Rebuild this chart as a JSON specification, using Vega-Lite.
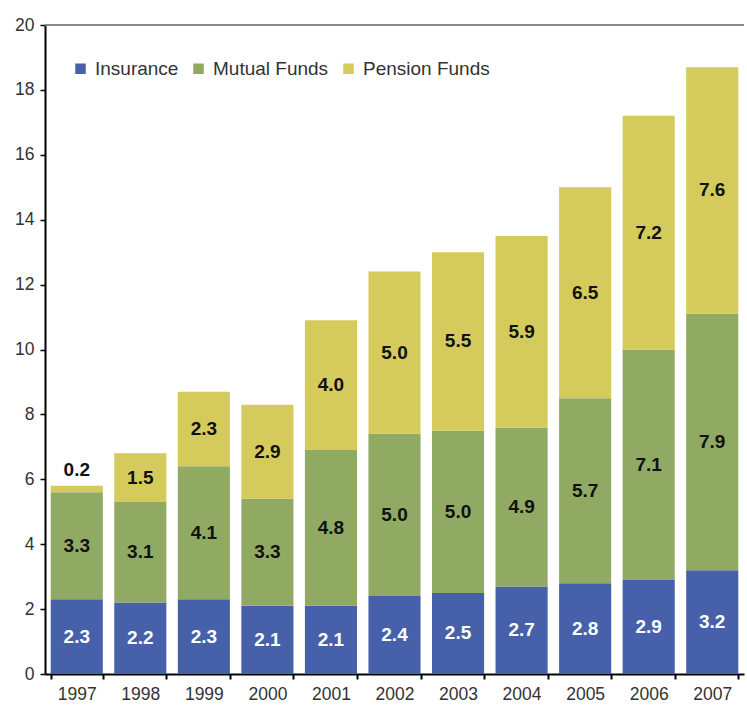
{
  "$schema": "https://vega.github.io/schema/vega-lite/v6.json",
  "autosize": {"type": "fit", "contains": "padding"},
  "width": 747,
  "height": 713,
  "padding": {"left": 14, "top": 16, "right": 2, "bottom": 10},
  "background": "white",
  "config": {
    "font": "Liberation Sans",
    "view": {"stroke": null}
  },
  "data": {
    "values": [
      {"year": "1997", "series": "Insurance", "k": 1, "value": 2.3},
      {"year": "1997", "series": "Mutual Funds", "k": 2, "value": 3.3},
      {"year": "1997", "series": "Pension Funds", "k": 3, "value": 0.2},
      {"year": "1998", "series": "Insurance", "k": 1, "value": 2.2},
      {"year": "1998", "series": "Mutual Funds", "k": 2, "value": 3.1},
      {"year": "1998", "series": "Pension Funds", "k": 3, "value": 1.5},
      {"year": "1999", "series": "Insurance", "k": 1, "value": 2.3},
      {"year": "1999", "series": "Mutual Funds", "k": 2, "value": 4.1},
      {"year": "1999", "series": "Pension Funds", "k": 3, "value": 2.3},
      {"year": "2000", "series": "Insurance", "k": 1, "value": 2.1},
      {"year": "2000", "series": "Mutual Funds", "k": 2, "value": 3.3},
      {"year": "2000", "series": "Pension Funds", "k": 3, "value": 2.9},
      {"year": "2001", "series": "Insurance", "k": 1, "value": 2.1},
      {"year": "2001", "series": "Mutual Funds", "k": 2, "value": 4.8},
      {"year": "2001", "series": "Pension Funds", "k": 3, "value": 4.0},
      {"year": "2002", "series": "Insurance", "k": 1, "value": 2.4},
      {"year": "2002", "series": "Mutual Funds", "k": 2, "value": 5.0},
      {"year": "2002", "series": "Pension Funds", "k": 3, "value": 5.0},
      {"year": "2003", "series": "Insurance", "k": 1, "value": 2.5},
      {"year": "2003", "series": "Mutual Funds", "k": 2, "value": 5.0},
      {"year": "2003", "series": "Pension Funds", "k": 3, "value": 5.5},
      {"year": "2004", "series": "Insurance", "k": 1, "value": 2.7},
      {"year": "2004", "series": "Mutual Funds", "k": 2, "value": 4.9},
      {"year": "2004", "series": "Pension Funds", "k": 3, "value": 5.9},
      {"year": "2005", "series": "Insurance", "k": 1, "value": 2.8},
      {"year": "2005", "series": "Mutual Funds", "k": 2, "value": 5.7},
      {"year": "2005", "series": "Pension Funds", "k": 3, "value": 6.5},
      {"year": "2006", "series": "Insurance", "k": 1, "value": 2.9},
      {"year": "2006", "series": "Mutual Funds", "k": 2, "value": 7.1},
      {"year": "2006", "series": "Pension Funds", "k": 3, "value": 7.2},
      {"year": "2007", "series": "Insurance", "k": 1, "value": 3.2},
      {"year": "2007", "series": "Mutual Funds", "k": 2, "value": 7.9},
      {"year": "2007", "series": "Pension Funds", "k": 3, "value": 7.6}
    ]
  },
  "transform": [
    {"stack": "value", "groupby": ["year"], "sort": [{"field": "k", "order": "ascending"}], "as": ["v0", "v1"]},
    {"calculate": "datum.value < 0.5 ? datum.v1 + 0.5 : (datum.v0 + datum.v1) / 2", "as": "labelY"}
  ],
  "layer": [
    {
      "mark": {"type": "bar"},
      "encoding": {
        "x": {
          "field": "year", "type": "ordinal",
          "scale": {"paddingInner": 0.18, "paddingOuter": 0.09},
          "axis": {
            "title": null, "labelAngle": 0, "labelFontSize": 17.5, "labelColor": "#333333",
            "labelPadding": 6, "tickBand": "extent", "tickColor": "#000000", "tickSize": 5,
            "tickWidth": 2, "domainColor": "#000000", "domainWidth": 2
          }
        },
        "y": {
          "field": "v0", "type": "quantitative",
          "scale": {"domain": [0, 20], "nice": false},
          "axis": {
            "title": null, "values": [0, 2, 4, 6, 8, 10, 12, 14, 16, 18, 20], "grid": false,
            "labelFontSize": 17.5, "labelColor": "#333333", "labelPadding": 6,
            "tickColor": "#000000", "tickSize": 5, "tickWidth": 1.5,
            "domainColor": "#000000", "domainWidth": 2
          }
        },
        "y2": {"field": "v1"},
        "color": {
          "field": "series", "type": "nominal",
          "scale": {"domain": ["Insurance", "Mutual Funds", "Pension Funds"], "range": ["#4760aa", "#90a963", "#d4cb5c"]},
          "legend": {
            "title": null, "orient": "none", "legendX": 26, "legendY": 34, "direction": "horizontal",
            "symbolType": "square", "symbolSize": 110, "symbolStrokeWidth": 0, "symbolOpacity": 1,
            "labelFontSize": 19, "labelColor": "#333333", "columnPadding": 10, "labelOffset": 5
          }
        }
      }
    },
    {
      "mark": {"type": "rule", "color": "#888888", "strokeWidth": 1.5},
      "encoding": {"y": {"datum": 20}}
    },
    {
      "mark": {"type": "text", "fontSize": 19, "fontWeight": "bold", "baseline": "middle"},
      "encoding": {
        "x": {"field": "year", "type": "ordinal"},
        "y": {"field": "labelY", "type": "quantitative"},
        "text": {"field": "value", "type": "quantitative", "format": ".1f"},
        "color": {
          "condition": {"test": "datum.series === 'Insurance'", "value": "#ffffff"},
          "value": "#111111"
        }
      }
    }
  ]
}
